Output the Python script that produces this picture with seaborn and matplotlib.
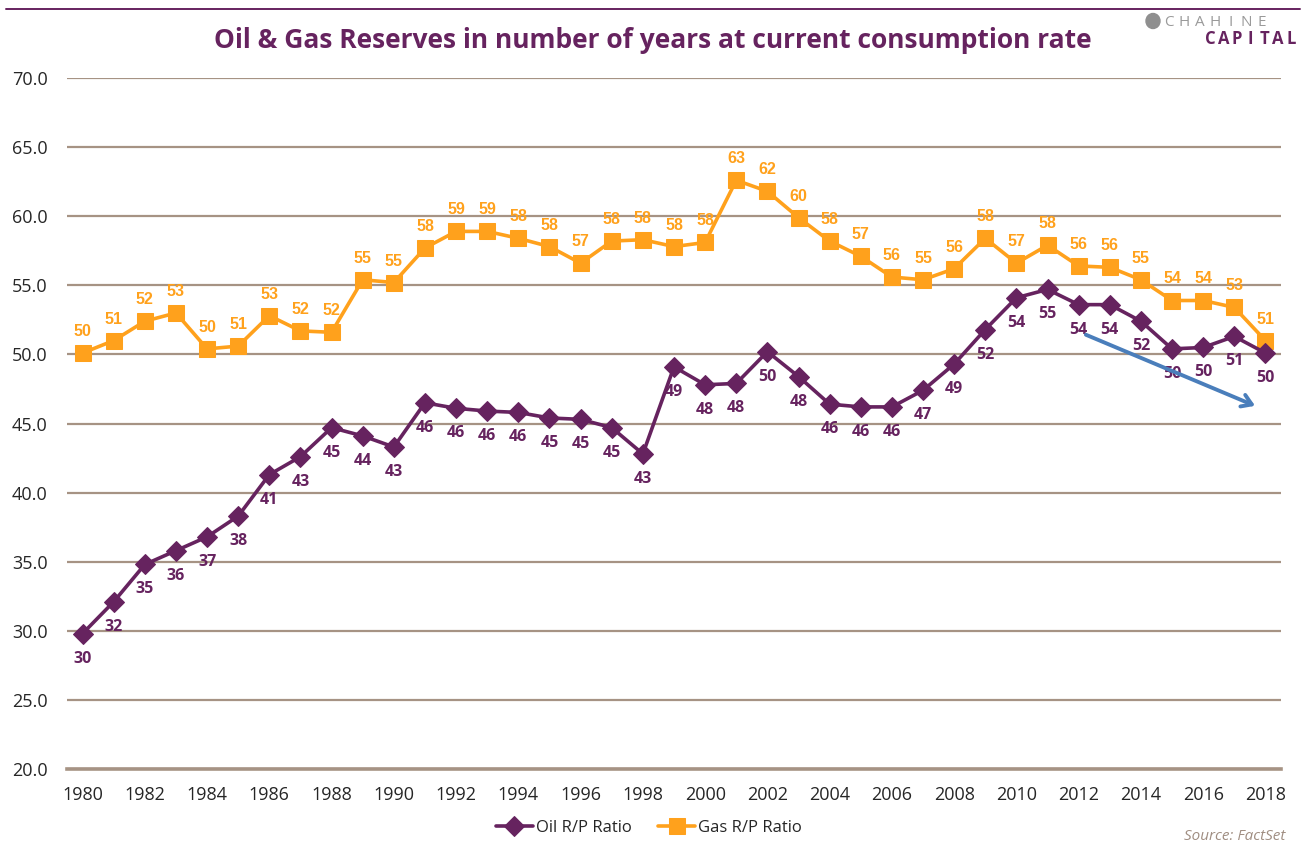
import numpy as np
import pandas as pd
import matplotlib.pyplot as plt
import matplotlib.patches as mpatches
from matplotlib.lines import Line2D
import seaborn as sns

# Data
years = list(range(1980, 2019))
oil_rp = [29.8, 32.1, 34.8, 35.8, 36.8, 38.3, 41.3, 42.6, 44.7, 44.1,
          43.3, 46.5, 46.1, 45.9, 45.8, 45.4, 45.3, 44.7, 42.8, 49.1,
          47.8, 47.9, 50.2, 48.4, 46.4, 46.2, 46.2, 47.4, 49.3, 51.8,
          54.1, 54.7, 53.6, 53.6, 52.4, 50.4, 50.5, 51.3, 50.1]
gas_rp = [50.1, 51.0, 52.4, 53.0, 50.4, 50.6, 52.8, 51.7, 51.6, 55.4,
          55.2, 57.7, 58.9, 58.9, 58.4, 57.8, 56.6, 58.2, 58.3, 57.8,
          58.1, 62.6, 61.8, 59.9, 58.2, 57.1, 55.6, 55.4, 56.2, 58.4,
          56.6, 57.9, 56.4, 56.3, 55.4, 53.9, 53.9, 53.4, 51.0]
y_ticks = np.arange(20, 71, 5)
x_ticks = list(range(1980, 2019, 2))

df = pd.DataFrame({"year": years, "oil": oil_rp, "gas": gas_rp})

purple = "#66235F"
orange = "#FFA11C"
brown = "#A69384"

sns.set_style("white")
plt.rcParams["font.family"] = ["Open Sans", "DejaVu Sans"]

fig = plt.figure(figsize=(13.06, 8.49), dpi=100)
ax = fig.add_axes([67 / 1306, 1 - 769 / 849, (1281 - 67) / 1306, (769 - 78) / 849])

sns.lineplot(data=df, x="year", y="gas", ax=ax, color=orange, lw=2.6,
             marker="s", markersize=11, markeredgecolor=orange, label="Gas R/P Ratio")
sns.lineplot(data=df, x="year", y="oil", ax=ax, color=purple, lw=2.6,
             marker="D", markersize=10, markeredgecolor=purple, label="Oil R/P Ratio")

# data labels
for yr, v in zip(years, gas_rp):
    ax.annotate(f"{v:.0f}", (yr, v), xytext=(0, 15.5), textcoords="offset points",
                ha="center", va="center", color=orange, fontsize=11.5,
                fontweight="bold", family=["Liberation Sans", "DejaVu Sans"])
for yr, v in zip(years, oil_rp):
    ax.annotate(f"{v:.0f}", (yr, v), xytext=(0, -18), textcoords="offset points",
                ha="center", va="center", color=purple, fontsize=11.5,
                fontweight="bold")

# trend arrow
ax.annotate("", xy=(2017.75, 46.2), xytext=(2012.15, 51.5),
            arrowprops=dict(arrowstyle="->,head_length=0.7,head_width=0.45",
                            color="#4A7EBB", lw=2.8))

ax.set_xlim(1979.5, 2018.5)
ax.set_ylim(20, 70)
ax.set_yticks(y_ticks)
ax.set_yticklabels([f"{t:.1f}" for t in y_ticks])
ax.set_xticks(x_ticks)
ax.set_xticks(np.arange(1979.5, 2019, 1), minor=True)
ax.tick_params(axis="x", which="major", length=0, pad=12, labelsize=13)
ax.tick_params(axis="x", which="minor", length=6, width=2.5, color=brown, direction="out")
ax.tick_params(axis="y", length=0, pad=14, labelsize=13)
ax.yaxis.grid(True, color=brown, lw=1.6)
ax.set_axisbelow(True)
for s in ["top", "right", "left"]:
    ax.spines[s].set_visible(False)
ax.spines["bottom"].set_color(brown)
ax.spines["bottom"].set_linewidth(2.6)
ax.set_xlabel("")
ax.set_ylabel("")

# legend at the bottom, oil first
handles, labels = ax.get_legend_handles_labels()
ax.get_legend().remove()
fig.legend(handles[::-1], labels[::-1], loc="center", bbox_to_anchor=(0.497, 1 - 828 / 849),
           ncol=2, frameon=False, fontsize=12, handlelength=2.2, columnspacing=1.6,
           handletextpad=0.2)

fig.suptitle("Oil & Gas Reserves in number of years at current consumption rate",
             x=0.5, y=1 - 40 / 849, va="center", fontsize=19, fontweight="bold", color=purple)

# top rule and logo
fig.add_artist(Line2D([6 / 1306, 1300 / 1306], [1 - 9 / 849] * 2, color=purple, lw=1.4))
fig.add_artist(mpatches.Ellipse((1153 / 1306, 1 - 21 / 849), 14 / 1306, 15 / 849,
                                color="#8F8F8F"))
for i, ch in enumerate("CHAHINE"):
    fig.text((1169 + 15.5 * i) / 1306, 1 - 22 / 849, ch, ha="center", va="center",
             fontsize=11, color="#9A9A9A")
for i, ch in enumerate("CAPITAL"):
    fig.text((1210 + 13.5 * i) / 1306, 1 - 39 / 849, ch, ha="center", va="center",
             fontsize=12, color=purple, fontweight="bold")

fig.text(1285 / 1306, 1 - 836 / 849, "Source: FactSet", ha="right", va="center",
         fontsize=11, style="italic", color="#A08E82")

fig.savefig("out.png", dpi=100)
